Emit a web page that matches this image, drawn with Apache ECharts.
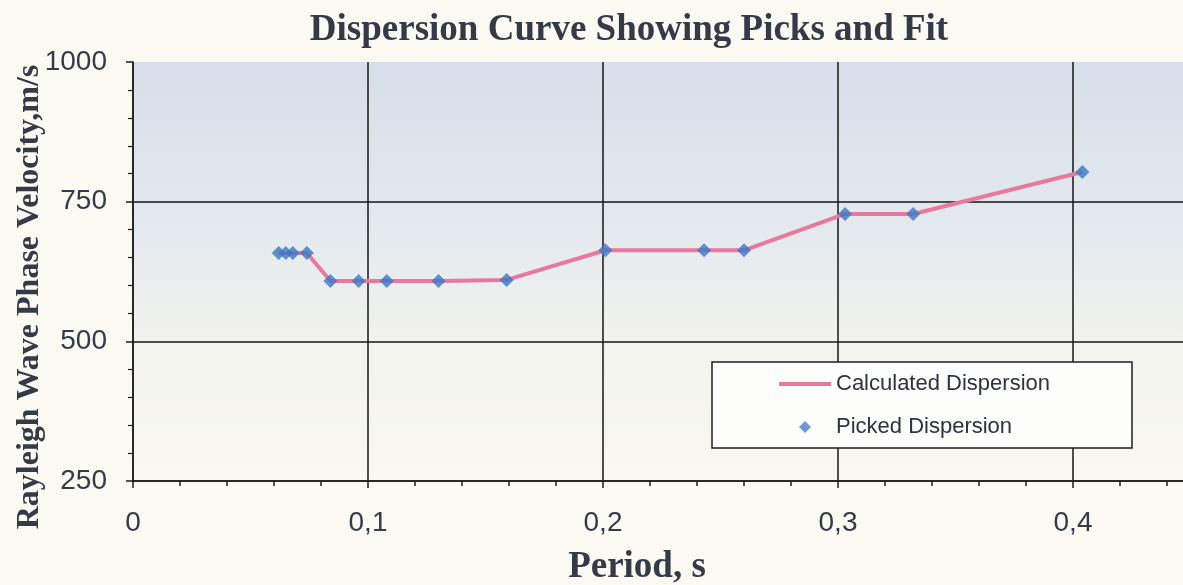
<!DOCTYPE html>
<html>
<head>
<meta charset="utf-8">
<script src="https://cdn.jsdelivr.net/npm/echarts@6/dist/echarts.min.js"></script>
<style>
html,body{margin:0;padding:0;background:#faf9f2;}
#c{width:1183px;height:585px;}
</style>
</head>
<body>
<div id="c"></div>
<script>
const periods = [0.062, 0.065, 0.068, 0.074, 0.084, 0.096, 0.108, 0.130, 0.159, 0.201, 0.243, 0.260, 0.303, 0.332, 0.404];
const calculated = [658, 658, 658, 658, 608, 608, 608, 608, 610, 663, 663, 663, 728, 728, 803];
const picked = [658, 658, 658, 658, 608, 608, 608, 608, 610, 663, 663, 663, 728, 728, 803];
const seriesNames = ['Calculated Dispersion', 'Picked Dispersion'];
const titleText = 'Dispersion Curve Showing Picks and Fit';
const xName = 'Period, s';
const yName = 'Rayleigh Wave Phase Velocity,m/s';

const chart = echarts.init(document.getElementById('c'), null, {renderer: 'canvas'});
const serif = '"Liberation Serif", "Times New Roman", serif';
const sans = '"Liberation Sans", Arial, sans-serif';
const txt = '#343a48';

chart.setOption({
  backgroundColor: '#faf9f2',
  animation: false,
  grid: {
    left: 133, top: 62, width: 1175, height: 419,
    outerBoundsMode: 'none', containLabel: false,
    show: true, borderWidth: 0,
    backgroundColor: new echarts.graphic.LinearGradient(0, 0, 0, 1, [
      {offset: 0, color: '#d7dfea'},
      {offset: 0.4, color: '#e4e9ee'},
      {offset: 0.7, color: '#f4f4ef'},
      {offset: 1, color: '#f9f8f1'}
    ])
  },
  xAxis: {
    type: 'value', min: 0, max: 0.5, interval: 0.1,
    axisLine: {show: true, onZero: false, lineStyle: {color: '#1c1c1c', width: 1.5}},
    axisTick: {show: true, length: 7, lineStyle: {color: '#1c1c1c', width: 1.5}},
    minorTick: {show: true, splitNumber: 5, length: 5, lineStyle: {color: '#1c1c1c', width: 1.5}},
    splitLine: {show: true, lineStyle: {color: '#161616', width: 1.5}},
    axisLabel: {
      margin: 28, fontFamily: sans, fontSize: 28, color: txt,
      formatter: v => v === 0 ? '0' : v.toFixed(1).replace('.', ',')
    }
  },
  yAxis: {
    type: 'value', min: 250, max: 1000, interval: 250,
    axisLine: {show: true, onZero: false, lineStyle: {color: '#1c1c1c', width: 1.5}},
    axisTick: {show: true, length: 7, lineStyle: {color: '#1c1c1c', width: 1.5}},
    minorTick: {show: true, splitNumber: 5, length: 5, lineStyle: {color: '#1c1c1c', width: 1.2}},
    splitLine: {show: true, showMaxLine: false, lineStyle: {color: '#161616', width: 1.5}},
    axisLabel: {margin: 26, fontFamily: sans, fontSize: 28, color: txt, formatter: v => String(v)}
  },
  legend: {
    left: 712, top: 362, orient: 'vertical',
    padding: [11, 82, 10, 67],
    itemGap: 21, itemWidth: 52, itemHeight: 12,
    symbolKeepAspect: true,
    backgroundColor: '#fdfdfb', borderColor: '#1e1e1e', borderWidth: 1.5, borderRadius: 0,
    textStyle: {fontFamily: sans, fontSize: 22, color: '#2e3140'},
    data: [
      {name: seriesNames[0], icon: 'path://M0,0 L52,0 L52,4 L0,4 Z', itemStyle: {color: '#e8799e'}},
      {name: seriesNames[1], icon: 'path://M5,0 L10,5 L5,10 L0,5 Z', itemStyle: {color: '#4a80c6'}}
    ]
  },
  series: [
    {
      name: seriesNames[0], type: 'line', symbol: 'none',
      lineStyle: {color: '#e8799e', width: 4},
      itemStyle: {color: '#e8799e'},
      data: periods.map((p, i) => [p, calculated[i]]), z: 2
    },
    {
      name: seriesNames[1], type: 'scatter', symbol: 'diamond', symbolSize: 14,
      itemStyle: {color: '#3b78c4'},
      data: periods.map((p, i) => [p, picked[i]]), z: 3
    }
  ],
  graphic: [
    {type: 'text', x: 629, y: 30, style: {text: titleText, font: 'bold 37px ' + serif, fill: txt, align: 'center', verticalAlign: 'middle'}},
    {type: 'text', x: 637, y: 567, style: {text: xName, font: 'bold 37px ' + serif, fill: txt, align: 'center', verticalAlign: 'middle'}},
    {type: 'text', x: 30, y: 297, rotation: Math.PI / 2, style: {text: yName, font: 'bold 32px ' + serif, fill: txt, align: 'center', verticalAlign: 'middle'}}
  ]
});
</script>
</body>
</html>
